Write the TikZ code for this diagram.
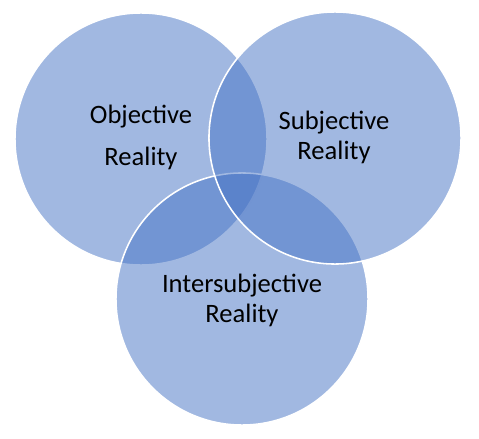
\documentclass[tikz,border=0pt]{standalone}
\usepackage{fontspec}
\setmainfont{Carlito}
\usepackage{tikz}
\usetikzlibrary{positioning}
\definecolor{vennblue}{HTML}{4472C4}

\begin{document}
\begin{tikzpicture}[
    x=0.025cm, y=-0.025cm,
    venn/.style={circle, minimum size=6.3cm, inner sep=0pt,
                 fill=vennblue, fill opacity=0.5, draw=white, line width=1.1pt},
    settext/.style={font=\fontsize{18.9}{21.3}\selectfont, align=center,
                    anchor=base, text=black, inner sep=0pt}
]
\useasboundingbox (0,0) rectangle (479,439);

% Circles (drawn in this order so the outlines show as in the original)
\node[venn] (objective) at (141,139) {};
\node[venn] (intersub) at (242,299) {};
\node[venn] (subjective) at (335,138) {};

% Labels (base = last line)
\node[settext] (objtext) at (141,165) {Objective\\[8pt]Reality};
\node[settext] (subtext) at (334,159) {Subjective\\Reality};
\node[settext] (intertext) at (242,322) {Intersubjective\\Reality};

\end{tikzpicture}
\end{document}
